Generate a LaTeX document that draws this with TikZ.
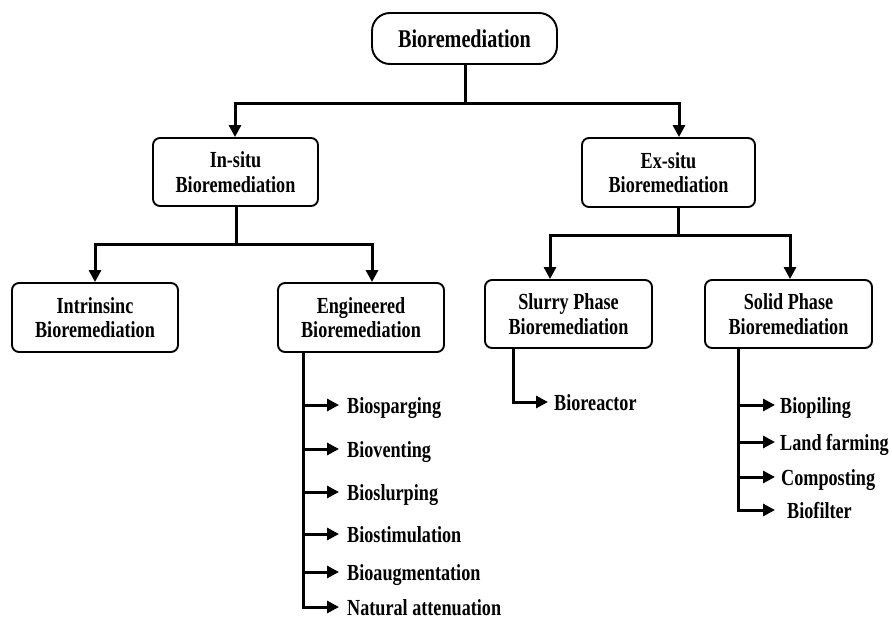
\documentclass[tikz,border=0pt]{standalone}
\usepackage{fontspec}
\setmainfont{Liberation Serif}[FakeStretch=0.79]
\usetikzlibrary{arrows.meta}
\begin{document}
\begin{tikzpicture}[x=1pt,y=-1pt,
  box/.style={draw, line width=1.9pt, rounded corners=7pt, align=center, inner sep=0pt,
    font=\fontsize{23}{24.5}\selectfont\bfseries},
  conn/.style={line width=3pt},
  arr/.style={line width=3pt, -{Triangle[length=12pt,width=12pt]}},
  item/.style={anchor=base west, inner sep=0pt, font=\fontsize{23}{24}\selectfont\bfseries}]
\useasboundingbox (0,0) rectangle (892,621);
\clip (0,0) rectangle (892,621);
\fill[white] (0,0) rectangle (892,621);
% boxes
\node[box, rounded corners=18pt, minimum width=185pt, minimum height=51pt,
  font=\fontsize{25.5}{26}\selectfont\bfseries] (top) at (464.5,38.5) {Bioremediation};
\node[box, minimum width=165pt, minimum height=68pt] (insitu) at (235.5,172) {In-situ\\Bioremediation};
\node[box, minimum width=173pt, minimum height=69pt] (exsitu) at (668.5,172.5) {Ex-situ\\Bioremediation};
\node[box, minimum width=166pt, minimum height=69pt] (intr) at (95,317.5) {Intrinsinc\\Bioremediation};
\node[box, minimum width=166pt, minimum height=69pt] (engr) at (361,317.5) {Engineered\\Bioremediation};
\node[box, minimum width=167pt, minimum height=68pt] (slurry) at (568.5,314) {Slurry Phase\\Bioremediation};
\node[box, minimum width=167pt, minimum height=68pt] (solid) at (788.5,314) {Solid Phase\\Bioremediation};
% level 1 connectors
\coordinate (j1) at (465,103);
\coordinate (j1l) at (235,103);
\coordinate (j1r) at (679,103);
\draw[conn] (top.south -| j1) -- (j1);
\draw[conn, line cap=rect] (j1l) -- (j1r);
\draw[arr] (j1l) -- (j1l |- insitu.north);
\draw[arr] (j1r) -- (j1r |- exsitu.north);
% level 2 left
\coordinate (j2) at (236,244);
\coordinate (j2l) at (95,244);
\coordinate (j2r) at (372,244);
\draw[conn] (insitu.south -| j2) -- (j2);
\draw[conn, line cap=rect] (j2l) -- (j2r);
\draw[arr] (j2l) -- (j2l |- intr.north);
\draw[arr] (j2r) -- (j2r |- engr.north);
% level 2 right
\coordinate (j3) at (678,235);
\coordinate (j3l) at (550,235);
\coordinate (j3r) at (790,235);
\draw[conn] (exsitu.south -| j3) -- (j3);
\draw[conn, line cap=rect] (j3l) -- (j3r);
\draw[arr] (j3l) -- (j3l |- slurry.north);
\draw[arr] (j3r) -- (j3r |- solid.north);
% engineered list
\coordinate (e0) at (303,607);
\draw[conn, line cap=rect] (engr.south -| e0) -- (e0);
\foreach \y/\t/\n in {405/Biosparging/ea,449/Bioventing/eb,492/Bioslurping/ec,534/Biostimulation/ed,572/Bioaugmentation/ee,607/Natural attenuation/ef}{
  \coordinate (\n s) at (302,\y);
  \coordinate (\n e) at (339,\y);
  \draw[arr] (\n s) -- (\n e);
  \node[item] (\n) at (347,\y+8) {\t};
}
% slurry list
\coordinate (s0) at (513,402);
\coordinate (s1) at (548,402);
\draw[conn, line cap=rect] (slurry.south -| s0) -- (s0);
\draw[arr] (s0) -- (s1);
\node[item] (bior) at (554,410) {Bioreactor};
% solid list
\coordinate (d0) at (738,510);
\draw[conn, line cap=rect] (solid.south -| d0) -- (d0);
\foreach \y/\t/\n/\x in {405/Biopiling/da/780,442/Land farming/db/780,477/Composting/dc/781,510/Biofilter/dd/787}{
  \coordinate (\n s) at (737,\y);
  \coordinate (\n e) at (775,\y);
  \draw[arr] (\n s) -- (\n e);
  \node[item] (\n) at (\x,\y+8) {\t};
}
\end{tikzpicture}
\end{document}
